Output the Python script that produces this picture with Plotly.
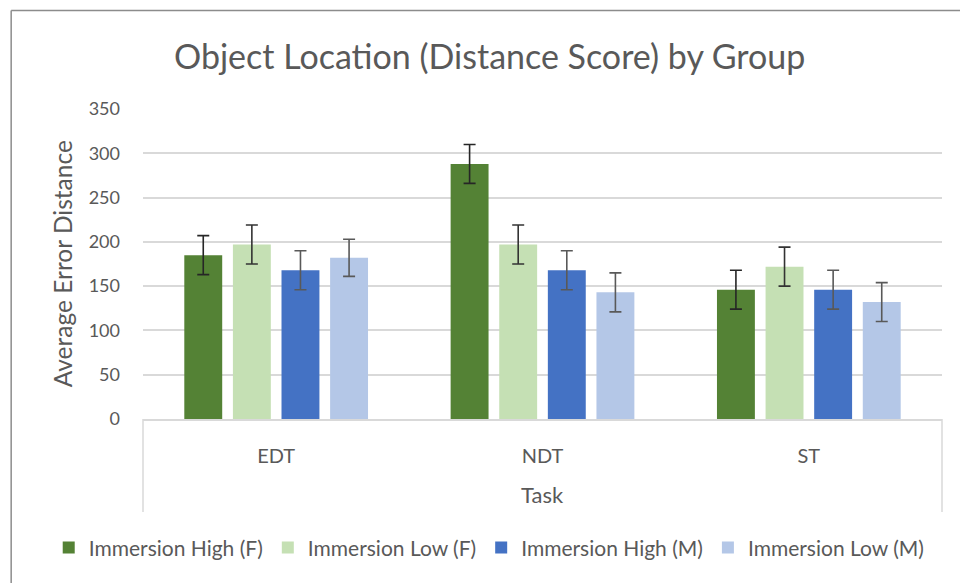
import plotly.graph_objects as go

# data
tasks = ['EDT', 'NDT', 'ST']
groups = ['Immersion High (F)', 'Immersion Low (F)', 'Immersion High (M)', 'Immersion Low (M)']
high_f = [185, 288, 146]
low_f = [197, 197, 172]
high_m = [168, 168, 146]
low_m = [182, 143, 132]
err_high_f = [22, 22, 22]
err_low_f = [22, 22, 22]
err_high_m = [22, 22, 22]
err_low_m = [21, 22, 22]
y_ticks = [0, 50, 100, 150, 200, 250, 300, 350]

colors = ['#548235', '#C5E0B4', '#4472C4', '#B4C7E7']
err_colors = ['#262626', '#333333', '#595959', '#595959']
values = [high_f, low_f, high_m, low_m]
errors = [err_high_f, err_low_f, err_high_m, err_low_m]

FONT = 'Lato, Open Sans, sans-serif'
TXT = '#595959'
GRID = '#d9d9d9'

fig = go.Figure()
for name, vals, errs, c, ec in zip(groups, values, errors, colors, err_colors):
	fig.add_trace(go.Bar(
		name = name,
		x = tasks,
		y = vals,
		marker = dict(color = c, line = dict(color = c, width = 0)),
		error_y = dict(type = 'data', array = errs, visible = True,
			color = ec, thickness = 1.6, width = 6),
	))

fig.update_layout(
	width = 960,
	height = 583,
	margin = dict(l = 143, r = 18, t = 109, b = 164, autoexpand = False),
	paper_bgcolor = 'white',
	plot_bgcolor = 'white',
	font = dict(family = FONT, color = TXT, size = 16),
	barmode = 'group',
	bargap = 0.27,
	bargroupgap = 0.22,
	showlegend = True,
	legend = dict(
		orientation = 'h',
		x = -0.118, xanchor = 'left',
		y = -0.416, yanchor = 'middle',
		font = dict(size = 21, color = TXT),
		itemwidth = 30,
		traceorder = 'normal',
	),
	annotations = [
		dict(text = 'Object Location (Distance Score) by Group', xref = 'paper', yref = 'paper',
			x = 0.434, y = 1.174, xanchor = 'center', yanchor = 'middle', showarrow = False,
			font = dict(size = 34, color = TXT, family = FONT)),
		dict(text = 'Average Error Distance', xref = 'paper', yref = 'paper',
			x = -0.101, y = 0.5, xanchor = 'center', yanchor = 'middle', textangle = -90,
			showarrow = False, font = dict(size = 24.5, color = TXT, family = FONT)),
		dict(text = 'Task', xref = 'paper', yref = 'paper',
			x = 0.5, y = -0.245, xanchor = 'center', yanchor = 'middle', showarrow = False,
			font = dict(size = 22, color = TXT, family = FONT)),
	],
	shapes = [
		# category box sides
		dict(type = 'line', xref = 'paper', yref = 'paper', x0 = 0, x1 = 0, y0 = 0, y1 = -0.3,
			line = dict(color = GRID, width = 1.5)),
		dict(type = 'line', xref = 'paper', yref = 'paper', x0 = 1, x1 = 1, y0 = 0, y1 = -0.3,
			line = dict(color = GRID, width = 1.5)),
		# outer chart border (top and left)
		dict(type = 'line', xref = 'paper', yref = 'paper', x0 = -0.165, x1 = 1.03, y0 = 1.318, y1 = 1.318,
			line = dict(color = '#8c8c8c', width = 1.5)),
		dict(type = 'line', xref = 'paper', yref = 'paper', x0 = -0.165, x1 = -0.165, y0 = 1.318, y1 = -0.55,
			line = dict(color = '#8c8c8c', width = 1.5)),
	],
)

fig.update_xaxes(
	showline = True, linecolor = GRID, linewidth = 1.5,
	showgrid = False, ticks = '',
	ticklabelstandoff = 18,
	tickfont = dict(size = 20, color = TXT),
)
fig.update_yaxes(
	range = [0, 350],
	tickvals = y_ticks,
	showgrid = True, gridcolor = GRID, gridwidth = 1.5,
	zeroline = False, showline = False,
	ticklabelstandoff = 22,
	tickfont = dict(size = 18, color = TXT),
)

# drop the browser's default page margin so the figure sits at 0,0
fig.write_html('out.html', config = {'displayModeBar': False},
	post_script = "document.body.style.margin='0';")
